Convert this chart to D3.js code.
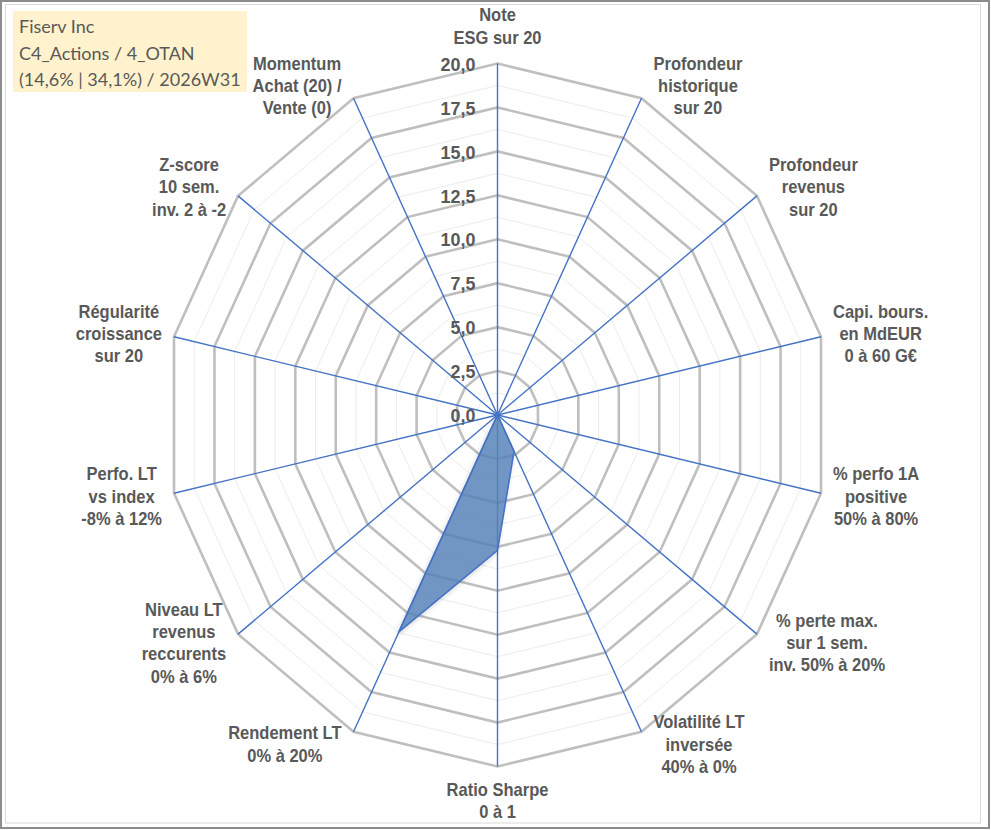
<!DOCTYPE html>
<html>
<head>
<meta charset="utf-8">
<script src="https://cdn.jsdelivr.net/npm/d3@7"></script>
<style>
  body { margin: 0; background: #fff; }
  svg { display: block; }
</style>
</head>
<body>
<svg id="chart" width="991" height="830"></svg>
<script>
// axis names, clockwise from the top
const categories = [
    "Note\nESG sur 20",
    "Profondeur\nhistorique\nsur 20",
    "Profondeur\nrevenus\nsur 20",
    "Capi. bours.\nen MdEUR\n0 à 60 G€",
    "% perfo 1A\npositive\n50% à 80%",
    "% perte max.\nsur 1 sem.\ninv. 50% à 20%",
    "Volatilité LT\ninversée\n40% à 0%",
    "Ratio Sharpe\n0 à 1",
    "Rendement LT\n0% à 20%",
    "Niveau LT\nrevenus\nreccurents\n0% à 6%",
    "Perfo. LT\nvs index\n-8% à 12%",
    "Régularité\ncroissance\nsur 20",
    "Z-score\n10 sem.\ninv. 2 à -2",
    "Momentum\nAchat (20) /\nVente (0)"
];
// scores on 20
const scores = [0, 0, 0, 0, 0, 0, 2.3, 7.7, 13.7, 0, 0, 0, 0, 0];
const tickValues = [0, 2.5, 5, 7.5, 10, 12.5, 15, 17.5, 20];
const titleLines = ["Fiserv Inc", "C4_Actions / 4_OTAN", "(14,6% | 34,1%) / 2026W31"];

const svg = d3.select("#chart");
const textColor = "#595959";
const blue = "#4472C4";

// frame
svg.append("rect").attr("x", 1).attr("y", 1).attr("width", 988).attr("height", 827)
    .attr("fill", "#fff").attr("stroke", "#8c8c8c").attr("stroke-width", 2);
svg.append("rect").attr("x", 5.5).attr("y", 4.5).attr("width", 975).attr("height", 818.5)
    .attr("fill", "none").attr("stroke", "#d9d9d9").attr("stroke-width", 1);

// the picture is a bit squeezed horizontally, so is the radar
const cx = 497.5, cy = 415, R = 351.5, sx = 0.944;
const n = categories.length;
const r = d3.scaleLinear().domain([0, 20]).range([0, R]);
const angle = i => i * 2 * Math.PI / n;

const g = svg.append("g").attr("transform", "translate(" + cx + "," + cy + ") scale(" + sx + ",1)");

// grid : major rings on the ticks, faint ones half way
const minorLevels = d3.pairs(tickValues).map(p => (p[0] + p[1]) / 2);
const ring = lvl => d3.lineRadial()
    .angle((d, i) => angle(i))
    .radius(() => r(lvl))
    .curve(d3.curveLinearClosed)(categories);

g.selectAll(".minor").data(minorLevels).enter().append("path")
    .attr("class", "minor")
    .attr("d", ring)
    .attr("fill", "none").attr("stroke", "#ececec").attr("stroke-width", 1)
    .attr("vector-effect", "non-scaling-stroke");

g.selectAll(".major").data(tickValues.filter(t => t > 0)).enter().append("path")
    .attr("class", "major")
    .attr("d", ring)
    .attr("fill", "none").attr("stroke", "#bfbfbf").attr("stroke-width", 2.6)
    .attr("stroke-linejoin", "miter")
    .attr("vector-effect", "non-scaling-stroke");

// spokes
g.selectAll(".spoke").data(categories).enter().append("line")
    .attr("class", "spoke")
    .attr("x1", 0).attr("y1", 0)
    .attr("x2", (d, i) => r(20) * Math.sin(angle(i)))
    .attr("y2", (d, i) => -r(20) * Math.cos(angle(i)))
    .attr("stroke", blue).attr("stroke-width", 1.4)
    .attr("vector-effect", "non-scaling-stroke");

// data area
const defs = svg.append("defs");
const shadow = defs.append("filter").attr("id", "shadow")
    .attr("x", "-20%").attr("y", "-20%").attr("width", "140%").attr("height", "140%");
shadow.append("feDropShadow").attr("dx", -1.5).attr("dy", 2.5).attr("stdDeviation", 2.5)
    .attr("flood-color", "#000").attr("flood-opacity", 0.18);

g.append("path")
    .datum(scores)
    .attr("d", d3.lineRadial()
        .angle((d, i) => angle(i))
        .radius(d => r(d))
        .curve(d3.curveLinearClosed))
    .attr("fill", "#5682ba").attr("fill-opacity", 0.8)
    .attr("stroke", blue).attr("stroke-width", 1.6)
    .attr("filter", "url(#shadow)")
    .attr("vector-effect", "non-scaling-stroke");

// tick labels
const fmt = d3.formatLocale({decimal: ",", thousands: " ", grouping: [3], currency: ["", " €"]}).format(".1f");
g.selectAll(".tick").data(tickValues).enter().append("text")
    .attr("class", "tick")
    .attr("x", -22 / sx)
    .attr("y", d => -r(d))
    .attr("dy", "0.38em")
    .attr("text-anchor", "end")
    .attr("font-family", "'Liberation Sans', Arial, sans-serif")
    .attr("font-weight", "bold")
    .attr("font-size", 19)
    .attr("fill", textColor)
    .text(d => fmt(d));

// category labels
const fontSize = 17.5, lineH = 22.3;
categories.forEach((name, i) => {
    const lines = name.split("\n");
    const a = angle(i);
    const dx = Math.sin(a), dy = -Math.cos(a);
    const tx = R * dx, ty = R * dy;
    const t = g.append("text")
        .attr("text-anchor", "middle")
        .attr("font-family", "'Liberation Sans', Arial, sans-serif")
        .attr("font-weight", "bold")
        .attr("font-size", fontSize)
        .attr("fill", textColor);
    const spans = lines.map(l => t.append("tspan").text(l));
    const w = d3.max(spans, s => s.node().getComputedTextLength());
    const h = lines.length * lineH;
    let x, yc;
    if (Math.abs(dx) < 0.01) {
        x = 0;
        yc = ty + (dy < 0 ? -(h / 2 + 15) : (h / 2 + 12));
    } else {
        x = tx + Math.sign(dx) * (w / 2 + 12 / sx);
        yc = ty + dy * 14;
    }
    spans.forEach((s, j) => {
        s.attr("x", x)
            .attr("y", yc + (j - (lines.length - 1) / 2) * lineH)
            .attr("dy", "0.36em");
    });
});

// title box
svg.append("rect").attr("x", 13).attr("y", 11).attr("width", 234).attr("height", 81)
    .attr("fill", "#fff2cc");
svg.selectAll(".title").data(titleLines).enter().append("text")
    .attr("class", "title")
    .attr("x", 19)
    .attr("y", (d, i) => 33 + i * 26.5)
    .attr("font-family", "Lato, 'Noto Sans', sans-serif")
    .attr("font-size", 18)
    .attr("fill", textColor)
    .text(d => d);
</script>
</body>
</html>
